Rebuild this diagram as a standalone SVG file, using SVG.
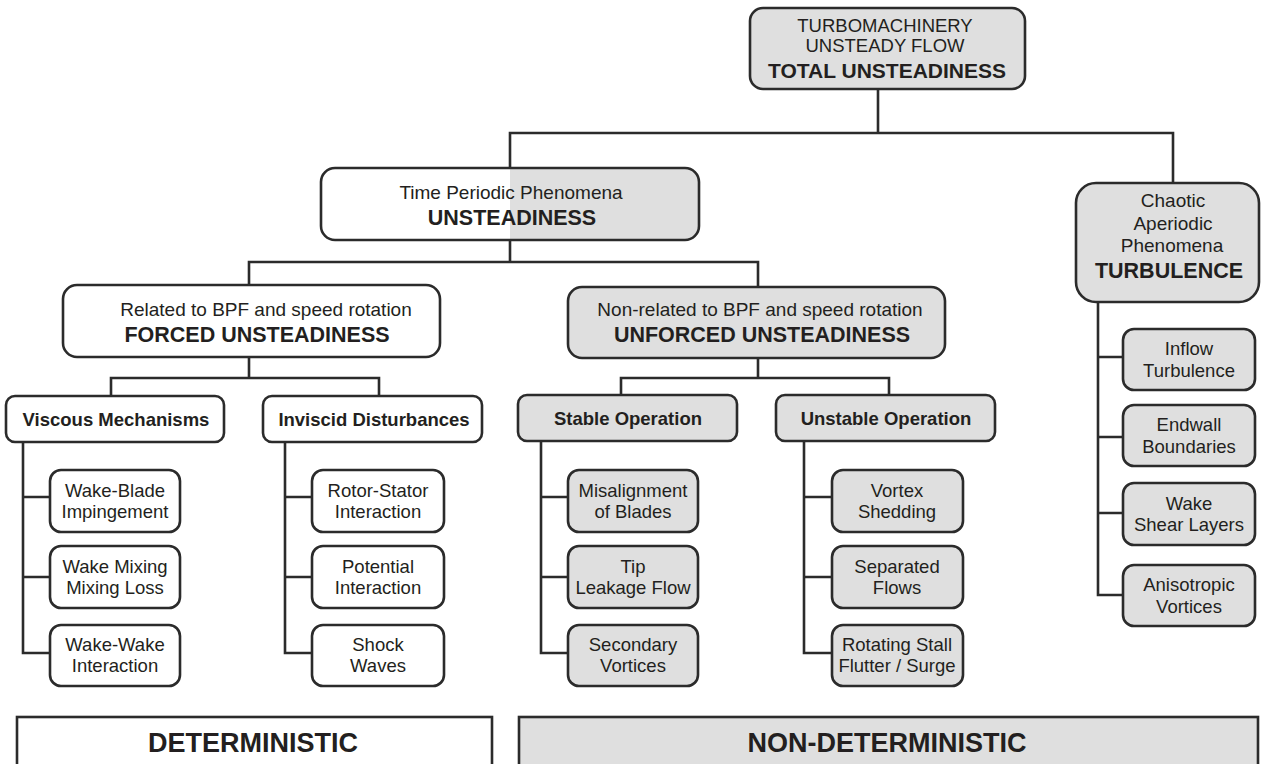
<svg xmlns="http://www.w3.org/2000/svg" width="1261" height="764" viewBox="0 0 1261 764">
<style>
.box{stroke:#2b2b2b;stroke-width:2.6}
.w{fill:#ffffff}
.g{fill:#dfdfdf}
.ln{fill:none;stroke:#2b2b2b;stroke-width:2.6;stroke-linecap:square}
text{font-family:"Liberation Sans",Arial,sans-serif;fill:#231f20;text-anchor:middle}
.r{font-size:18.5px}
.h{font-size:19px}
.b{font-size:21.5px;font-weight:bold}
.b3{font-size:18.5px;font-weight:bold}
.big{font-size:27px;font-weight:bold}
</style>
<rect width="1261" height="764" fill="#ffffff"/>
<g id="connectors">
<path class="ln" d="M878,89 V133 M510,133 H1173 M510,133 V168 M1173,133 V183"/>
<path class="ln" d="M510,240 V262 M249,262 H758 M249,262 V285 M758,262 V287"/>
<path class="ln" d="M249,357 V378 M111,378 H379 M111,378 V396 M379,378 V396"/>
<path class="ln" d="M758,358 V378 M621,378 H889 M621,378 V395 M889,378 V395"/>
<path class="ln" d="M23,442 V653 H49 M23,497 H50 M23,577 H50"/>
<path class="ln" d="M285,442 V653 H312 M285,497 H312 M285,577 H312"/>
<path class="ln" d="M541,441 V653 H568 M541,497 H568 M541,577 H568"/>
<path class="ln" d="M804,441 V653 H832 M804,497 H832 M804,577 H832"/>
<path class="ln" d="M1098,302 V595 H1123 M1098,357 H1123 M1098,437 H1123 M1098,513 H1123"/>
</g>
<g id="n-total">
<rect class="box g" x="750" y="8" width="275" height="81" rx="13"/>
<text class="r" x="885" y="32">TURBOMACHINERY</text>
<text class="r" x="885" y="52">UNSTEADY FLOW</text>
<text class="b" x="887" y="78" style="font-size:21px">TOTAL UNSTEADINESS</text>
</g>
<g id="n-unsteadiness">
<rect x="321" y="168" width="378" height="72" rx="14" class="w"/>
<path d="M510,168 H685 A14,14 0 0 1 699,182 V226 A14,14 0 0 1 685,240 H510 Z" class="g"/>
<rect x="321" y="168" width="378" height="72" rx="14" fill="none" stroke="#2b2b2b" stroke-width="2.6"/>
<text class="h" x="511" y="199">Time Periodic Phenomena</text>
<text class="b" x="512" y="225">UNSTEADINESS</text>
</g>
<g id="n-turbulence">
<rect class="box g" x="1076" y="183" width="183" height="119" rx="20"/>
<text class="h" x="1173" y="207">Chaotic</text>
<text class="h" x="1173" y="230">Aperiodic</text>
<text class="h" x="1172" y="252">Phenomena</text>
<text class="b" x="1169" y="278">TURBULENCE</text>
</g>
<g id="n-forced">
<rect class="box w" x="63" y="285" width="377" height="72" rx="14"/>
<text class="h" x="266" y="316">Related to BPF and speed rotation</text>
<text class="b" x="257" y="342">FORCED UNSTEADINESS</text>
</g>
<g id="n-unforced">
<rect class="box g" x="568" y="287" width="377" height="71" rx="14"/>
<text class="h" x="760" y="316">Non-related to BPF and speed rotation</text>
<text class="b" x="762" y="342">UNFORCED UNSTEADINESS</text>
</g>
<g id="n-viscous">
<rect class="box w" x="6" y="396" width="218" height="46" rx="9"/>
<text class="b3" x="116" y="426">Viscous Mechanisms</text>
</g>
<g id="n-inviscid">
<rect class="box w" x="263" y="396" width="219" height="46" rx="9"/>
<text class="b3" x="374" y="426">Inviscid Disturbances</text>
</g>
<g id="n-stable">
<rect class="box g" x="518" y="395" width="219" height="46" rx="9"/>
<text class="b3" x="628" y="425">Stable Operation</text>
</g>
<g id="n-unstable">
<rect class="box g" x="776" y="395" width="219" height="46" rx="9"/>
<text class="b3" x="886" y="425">Unstable Operation</text>
</g>
<g id="n-wake-blade">
<rect class="box w" x="50" y="470" width="130" height="62" rx="11"/>
<text class="r" x="115" y="497">Wake-Blade</text>
<text class="r" x="115" y="518">Impingement</text>
</g>
<g id="n-wake-mixing">
<rect class="box w" x="50" y="546" width="130" height="62" rx="11"/>
<text class="r" x="115" y="573">Wake Mixing</text>
<text class="r" x="115" y="594">Mixing Loss</text>
</g>
<g id="n-wake-wake">
<rect class="box w" x="50" y="625" width="130" height="61" rx="11"/>
<text class="r" x="115" y="651">Wake-Wake</text>
<text class="r" x="115" y="672">Interaction</text>
</g>
<g id="n-rotor-stator">
<rect class="box w" x="312" y="470" width="132" height="62" rx="11"/>
<text class="r" x="378" y="497">Rotor-Stator</text>
<text class="r" x="378" y="518">Interaction</text>
</g>
<g id="n-potential">
<rect class="box w" x="312" y="546" width="132" height="62" rx="11"/>
<text class="r" x="378" y="573">Potential</text>
<text class="r" x="378" y="594">Interaction</text>
</g>
<g id="n-shock">
<rect class="box w" x="312" y="625" width="132" height="61" rx="11"/>
<text class="r" x="378" y="651">Shock</text>
<text class="r" x="378" y="672">Waves</text>
</g>
<g id="n-misalignment">
<rect class="box g" x="568" y="470" width="130" height="62" rx="11"/>
<text class="r" x="633" y="497">Misalignment</text>
<text class="r" x="633" y="518">of Blades</text>
</g>
<g id="n-tip">
<rect class="box g" x="568" y="546" width="130" height="62" rx="11"/>
<text class="r" x="633" y="573">Tip</text>
<text class="r" x="633" y="594">Leakage Flow</text>
</g>
<g id="n-secondary">
<rect class="box g" x="568" y="625" width="130" height="61" rx="11"/>
<text class="r" x="633" y="651">Secondary</text>
<text class="r" x="633" y="672">Vortices</text>
</g>
<g id="n-vortex">
<rect class="box g" x="832" y="470" width="131" height="62" rx="11"/>
<text class="r" x="897" y="497">Vortex</text>
<text class="r" x="897" y="518">Shedding</text>
</g>
<g id="n-separated">
<rect class="box g" x="832" y="546" width="131" height="62" rx="11"/>
<text class="r" x="897" y="573">Separated</text>
<text class="r" x="897" y="594">Flows</text>
</g>
<g id="n-rotating">
<rect class="box g" x="832" y="625" width="131" height="61" rx="11"/>
<text class="r" x="897" y="651">Rotating Stall</text>
<text class="r" x="897" y="672">Flutter / Surge</text>
</g>
<g id="n-inflow">
<rect class="box g" x="1123" y="329" width="132" height="61" rx="11"/>
<text class="r" x="1189" y="355">Inflow</text>
<text class="r" x="1189" y="377">Turbulence</text>
</g>
<g id="n-endwall">
<rect class="box g" x="1123" y="405" width="132" height="61" rx="11"/>
<text class="r" x="1189" y="431">Endwall</text>
<text class="r" x="1189" y="453">Boundaries</text>
</g>
<g id="n-wake-shear">
<rect class="box g" x="1123" y="483" width="132" height="62" rx="11"/>
<text class="r" x="1189" y="510">Wake</text>
<text class="r" x="1189" y="531">Shear Layers</text>
</g>
<g id="n-anisotropic">
<rect class="box g" x="1123" y="565" width="132" height="61" rx="11"/>
<text class="r" x="1189" y="591">Anisotropic</text>
<text class="r" x="1189" y="613">Vortices</text>
</g>
<g id="n-deterministic">
<rect class="box w" x="17" y="717" width="475" height="70"/>
<text class="big" x="253" y="752">DETERMINISTIC</text>
</g>
<g id="n-nondeterministic">
<rect class="box g" x="519" y="717" width="739" height="70"/>
<text class="big" x="887" y="752">NON-DETERMINISTIC</text>
</g>
</svg>
